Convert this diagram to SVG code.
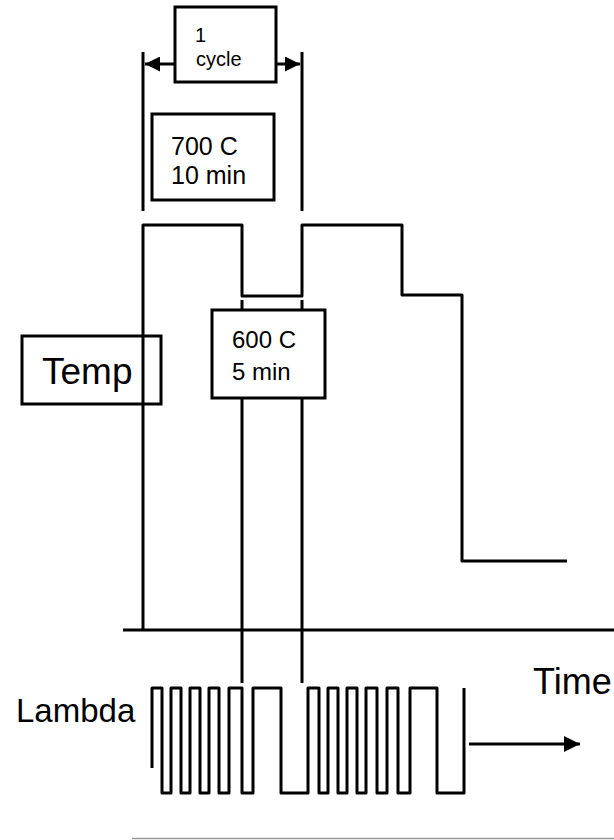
<svg xmlns="http://www.w3.org/2000/svg" width="614" height="840" viewBox="0 0 614 840">
<style>
.ln{fill:none;stroke:#000;stroke-width:3;stroke-linejoin:round}
.box{fill:none;stroke:#000;stroke-width:3}
.wbox{fill:#fff;stroke:#000;stroke-width:3}
text{font-family:"Liberation Sans",Arial,sans-serif;fill:#000}
</style>
<defs>
<marker id="ah" viewBox="0 0 10 10" refX="10" refY="5" markerWidth="5" markerHeight="5" markerUnits="strokeWidth" orient="auto">
<path d="M0,0 L10,5 L0,10 z" fill="#000"/>
</marker>
<marker id="ah2" viewBox="0 0 10 10" refX="10" refY="5" markerWidth="5.5" markerHeight="5.5" markerUnits="strokeWidth" orient="auto">
<path d="M0,0 L10,5 L0,10 z" fill="#000"/>
</marker>
</defs>
<g id="connectors">
<path class="ln" d="M143,630 V225 H242 V296 H302 V225 H402 V295 H462 V561 H567"/>
<line x1="123" y1="630" x2="614" y2="630" stroke="#000" stroke-width="3"/>
<line x1="143" y1="52" x2="143" y2="211" stroke="#000" stroke-width="3"/>
<line x1="302" y1="52" x2="302" y2="211" stroke="#000" stroke-width="3"/>
<line x1="175" y1="64" x2="145" y2="64" stroke="#000" stroke-width="3" marker-end="url(#ah)"/>
<line x1="276" y1="64" x2="300" y2="64" stroke="#000" stroke-width="3" marker-end="url(#ah)"/>
<line x1="242" y1="300" x2="242" y2="683" stroke="#000" stroke-width="3"/>
<line x1="302" y1="300" x2="302" y2="683" stroke="#000" stroke-width="3"/>
<path class="ln" d="M152,768 V688 H162 V793 H171 V688 H181 V793 H190 V688 H200 V793 H209 V688 H219 V793 H229 V688 H242 V793 H253 V688 H281 V793 H308 V688 H319 V793 H328 V688 H338 V793 H347 V688 H357 V793 H366 V688 H377 V793 H387 V688 H398 V793 H410 V688 H437 V793 H464 V688"/>
<line x1="469" y1="744" x2="580" y2="744" stroke="#000" stroke-width="3" marker-end="url(#ah2)"/>
<line x1="132" y1="838.5" x2="614" y2="838.5" stroke="#999" stroke-width="1.5"/>
</g>
<g id="cycle">
<rect class="wbox" x="175" y="7" width="101" height="75"/>
<text x="195" y="42" font-size="20">1</text>
<text x="196" y="66" font-size="20">cycle</text>
</g>
<g id="t700">
<rect class="box" x="152" y="114" width="122" height="86"/>
<text x="171" y="155" font-size="25">700 C</text>
<text x="171" y="184" font-size="25">10 min</text>
</g>
<g id="t600">
<rect class="wbox" x="212" y="310" width="113" height="88"/>
<text x="232" y="348" font-size="24">600 C</text>
<text x="232" y="380" font-size="24">5 min</text>
</g>
<g id="temp">
<rect class="box" x="22" y="336" width="139" height="68"/>
<text x="42" y="384" font-size="37">Temp</text>
</g>
<g id="lambda">
<text x="16" y="722" font-size="33">Lambda</text>
</g>
<g id="time">
<text x="533" y="694" font-size="36">Time</text>
</g>
</svg>
